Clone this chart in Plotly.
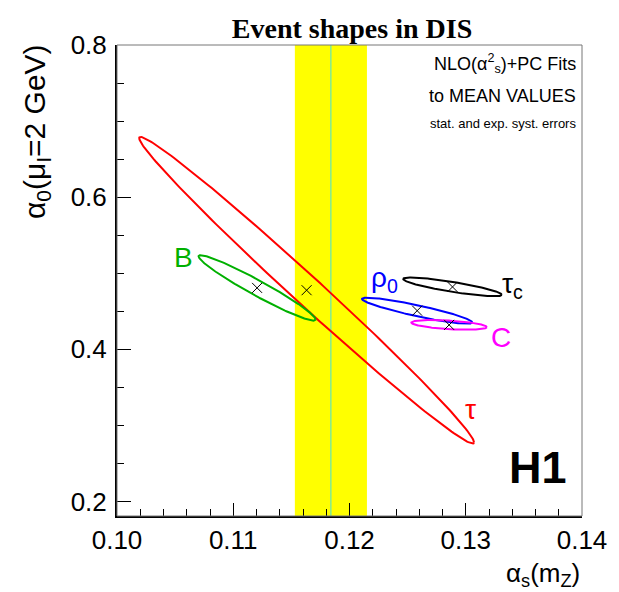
import numpy as np
import plotly.graph_objects as go

# ---- data ----
names = ["tau", "B", "rho0", "tauC", "C"]
center_as = [0.11631, 0.11205, 0.12582, 0.12886, 0.12857]
center_a0 = [0.47774, 0.48077, 0.45081, 0.48208, 0.43216]
sigma_as = [0.01440, 0.00503, 0.00474, 0.00424, 0.00325]
sigma_a0 = [0.2015, 0.0430, 0.0171, 0.0123, 0.0064]
rho = [-0.992, -0.964, -0.903, -0.842, -0.467]
colors = ["#ff0000", "#00b000", "#0000ff", "#000000", "#ff00ff"]

world_as = 0.1184
world_err = 0.0031

label_text = ["τ", "B", "ρ<sub>0</sub>", "τ<sub>c</sub>", "C"]
label_x = [0.13041, 0.10573, 0.12300, 0.13400, 0.13302]
label_y = [0.3205, 0.5202, 0.4920, 0.4840, 0.4151]

x_ticks = [0.10, 0.11, 0.12, 0.13, 0.14]
y_ticks = [0.2, 0.4, 0.6, 0.8]

W, H = 619, 592
L, R, T, B = 116.5, 619 - 588, 45, 592 - 516
PW, PH = W - L - R, H - T - B


def px_to_paper(px, py):
    return (px - L) / PW, (H - B - py) / PH


fig = go.Figure()

# world-average band and line
fig.add_shape(type="rect", xref="x", yref="y", x0=world_as - world_err, x1=world_as + world_err,
              y0=0.181, y1=0.8, fillcolor="#ffff00", line_width=0, layer="below")
fig.add_shape(type="line", xref="x", yref="y", x0=world_as, x1=world_as, y0=0.181, y1=0.8,
              line=dict(color="#40e0e0", width=1), layer="below")

t = np.linspace(0, 2 * np.pi, 241)
for n, cx, cy, sx, sy, r, c in zip(names, center_as, center_a0, sigma_as, sigma_a0, rho, colors):
    xs = cx + sx * np.cos(t)
    ys = cy + sy * (r * np.cos(t) + np.sqrt(1 - r * r) * np.sin(t))
    fig.add_trace(go.Scatter(x=xs, y=ys, mode="lines", line=dict(color=c, width=2),
                             name=n, showlegend=False, hoverinfo="skip"))

fig.add_trace(go.Scatter(x=center_as, y=center_a0, mode="markers",
                         marker=dict(symbol="x-thin", size=10, line=dict(color="black", width=1)),
                         showlegend=False))

for txt, lx, ly, c in zip(label_text, label_x, label_y, colors):
    fig.add_annotation(x=lx, y=ly, xref="x", yref="y", text=txt, showarrow=False,
                       font=dict(family="Liberation Sans", size=28, color=c))

# H1 logo
fig.add_annotation(x=0.13618, y=0.2443, xref="x", yref="y", text="<b>H1</b>", showarrow=False,
                   font=dict(family="Liberation Sans", size=45, color="black"))

# text block
for txt, ypx, sz in [("NLO(α<sup>2</sup><sub>s</sub>)+PC Fits", 63, 18),
                     ("to MEAN VALUES", 96, 18),
                     ("stat. and exp. syst. errors", 124, 13)]:
    xp, yp = px_to_paper(584, ypx)
    fig.add_annotation(x=xp, y=yp, xref="paper", yref="paper",
                       text=txt, showarrow=False, xanchor="right", yanchor="middle",
                       font=dict(family="Liberation Sans", size=sz, color="black"))

# axis titles
xp, yp = px_to_paper(588, 574)
fig.add_annotation(x=xp, y=yp, xref="paper", yref="paper",
                   text="α<sub>s</sub>(m<sub>Z</sub>)", showarrow=False,
                   xanchor="right", yanchor="middle",
                   font=dict(family="Liberation Sans", size=26, color="black"))
xp, yp = px_to_paper(35, 42)
fig.add_annotation(x=xp, y=yp, xref="paper", yref="paper",
                   text="α<sub>0</sub>(μ<sub>I</sub>=2 GeV)", showarrow=False, textangle=-90,
                   xanchor="center", yanchor="top",
                   font=dict(family="Liberation Sans", size=30, color="black"))

# frame (top/right gray)
fig.add_shape(type="rect", xref="paper", yref="paper", x0=0, x1=1, y0=0, y1=1,
              line=dict(color="#777777", width=1), layer="above")

fig.update_layout(
    width=W, height=H, autosize=False,
    margin=dict(l=L, r=R, t=T, b=B, pad=0),
    paper_bgcolor="white", plot_bgcolor="white",
    title=dict(text="<b>Event shapes in DIS</b>", xref="container", yref="container",
               x=352 / W, y=1 - 28 / H, xanchor="center", yanchor="middle",
               font=dict(family="Liberation Serif", size=28, color="black")),
    xaxis=dict(range=[0.10, 0.14], showgrid=False, zeroline=False,
               showline=True, linecolor="black", linewidth=2,
               ticks="inside", ticklen=13, tickwidth=1, tickcolor="black",
               tickvals=x_ticks, ticktext=[f"{v:.2f}" for v in x_ticks],
               tickfont=dict(family="Liberation Sans", size=26, color="black"),
               minor=dict(dtick=0.002, tick0=0.10, ticks="inside", ticklen=7,
                          tickcolor="black", tickwidth=1, showgrid=False),
               ticklabelstandoff=0),
    yaxis=dict(range=[0.181, 0.8], showgrid=False, zeroline=False,
               showline=True, linecolor="black", linewidth=2,
               ticks="inside", ticklen=14, tickwidth=1, tickcolor="black",
               tickvals=y_ticks, ticktext=[f"{v:.1f}" for v in y_ticks],
               tickfont=dict(family="Liberation Sans", size=26, color="black"),
               minor=dict(dtick=0.05, tick0=0.2, ticks="inside", ticklen=7,
                          tickcolor="black", tickwidth=1, showgrid=False),
               ticklabelstandoff=3),
    showlegend=False,
)

fig.write_html("out.html")
